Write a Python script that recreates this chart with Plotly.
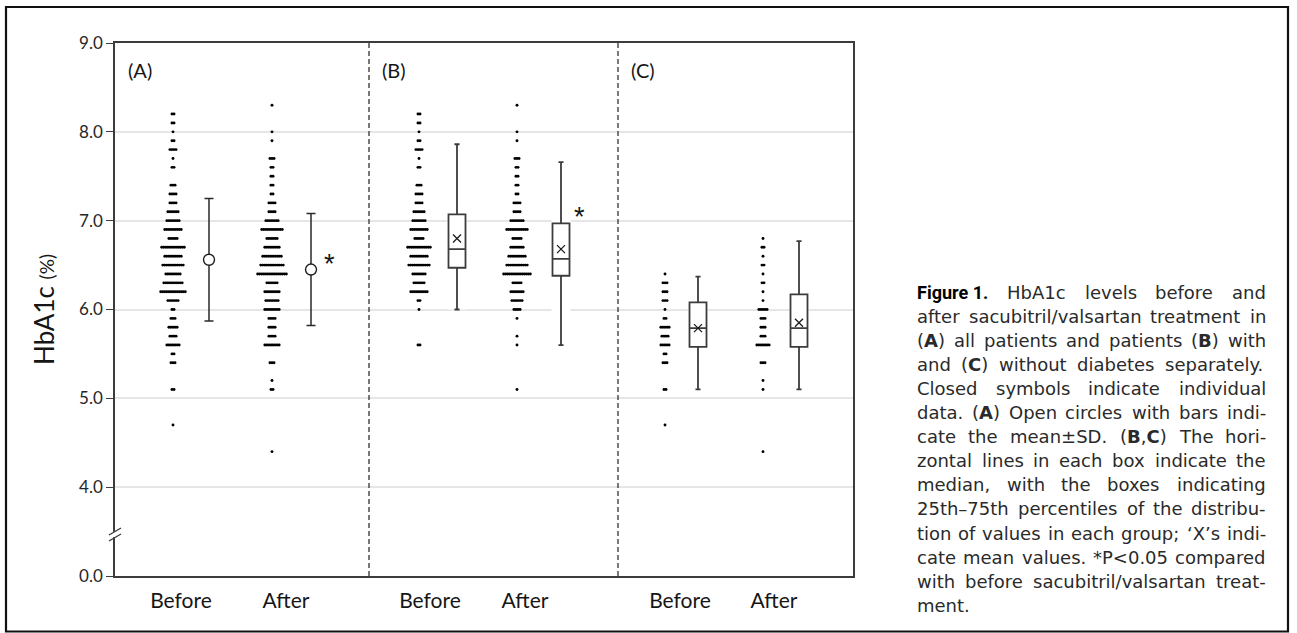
import plotly.graph_objects as go

# ---------------- data ----------------
A_before_vals = [8.2, 8.1, 8.0, 7.9, 7.8, 7.7, 7.6, 7.4, 7.3, 7.2, 7.1, 7.0, 6.9, 6.8, 6.7,
                 6.6, 6.5, 6.4, 6.3, 6.2, 6.1, 6.0, 5.9, 5.8, 5.7, 5.6, 5.5, 5.4, 5.1, 4.7]
A_before_counts = [2, 2, 1, 2, 4, 1, 2, 3, 4, 4, 6, 7, 9, 5, 12,
                   9, 11, 8, 10, 13, 6, 2, 3, 5, 4, 7, 2, 3, 2, 1]
A_after_vals = [8.3, 8.0, 7.9, 7.7, 7.6, 7.5, 7.4, 7.3, 7.2, 7.1, 7.0, 6.9, 6.8, 6.7, 6.6,
                6.5, 6.4, 6.3, 6.2, 6.1, 6.0, 5.9, 5.8, 5.7, 5.6, 5.4, 5.2, 5.1, 4.4]
A_after_counts = [1, 1, 1, 3, 2, 2, 2, 2, 4, 4, 7, 11, 6, 8, 10,
                  12, 15, 6, 8, 7, 8, 4, 4, 4, 8, 3, 1, 2, 1]

B_before_vals = [8.2, 8.1, 8.0, 7.9, 7.8, 7.7, 7.6, 7.4, 7.3, 7.2, 7.1, 7.0, 6.9, 6.8, 6.7,
                 6.6, 6.5, 6.4, 6.3, 6.2, 6.1, 6.0, 5.6]
B_before_counts = [2, 2, 1, 2, 4, 1, 2, 3, 4, 4, 6, 7, 9, 5, 12, 9, 11, 7, 6, 9, 2, 1, 2]
B_after_vals = [8.3, 8.0, 7.9, 7.7, 7.6, 7.5, 7.4, 7.3, 7.2, 7.1, 7.0, 6.9, 6.8, 6.7, 6.6,
                6.5, 6.4, 6.3, 6.2, 6.1, 6.0, 5.9, 5.7, 5.6, 5.1]
B_after_counts = [1, 1, 1, 3, 2, 2, 2, 2, 4, 4, 7, 11, 5, 7, 9, 11, 14, 5, 7, 6, 4, 1, 1, 1, 1]

C_before_vals = [6.4, 6.3, 6.2, 6.1, 6.0, 5.9, 5.8, 5.7, 5.6, 5.5, 5.4, 5.1, 4.7]
C_before_counts = [1, 3, 3, 3, 1, 2, 5, 4, 5, 2, 3, 2, 1]
C_after_vals = [6.8, 6.7, 6.6, 6.5, 6.4, 6.3, 6.2, 6.1, 6.0, 5.9, 5.8, 5.7, 5.6, 5.4, 5.2, 5.1, 4.4]
C_after_counts = [1, 2, 1, 2, 1, 2, 1, 1, 5, 3, 3, 3, 7, 3, 1, 1, 1]

# panel A: mean +/- SD  (before, after)
A_mean = [6.56, 6.45]
A_sd = [0.69, 0.63]

# panels B, C: box summaries (before, after)
B_q1 = [6.47, 6.38]
B_median = [6.68, 6.57]
B_q3 = [7.07, 6.97]
B_low = [6.00, 5.60]
B_high = [7.86, 7.66]
B_mean = [6.80, 6.68]

C_q1 = [5.58, 5.58]
C_median = [5.79, 5.79]
C_q3 = [6.08, 6.17]
C_low = [5.10, 5.10]
C_high = [6.37, 6.77]
C_mean = [5.79, 5.85]

group_labels = ["Before", "After", "Before", "After", "Before", "After"]
panel_labels = ["(A)", "(B)", "(C)"]
y_tick_vals = [3, 4, 5, 6, 7, 8, 9]          # 3 is the broken-axis position shown as 0.0
y_tick_text = ["0.0", "4.0", "5.0", "6.0", "7.0", "8.0", "9.0"]
y_title = "HbA1c"
y_unit = "(%)"

caption_title = "Figure 1."
caption_lines = [
    "HbA1c levels before and",
    "after sacubitril/valsartan treatment in",
    "(<b>A</b>) all patients and patients (<b>B</b>) with",
    "and (<b>C</b>) without diabetes separately.",
    "Closed symbols indicate individual",
    "data. (<b>A</b>) Open circles with bars indi-",
    "cate the mean±SD. (<b>B</b>,<b>C</b>) The hori-",
    "zontal lines in each box indicate the",
    "median, with the boxes indicating",
    "25th–75th percentiles of the distribu-",
    "tion of values in each group; ‘X’s indi-",
    "cate mean values. *P<0.05 compared",
    "with before sacubitril/valsartan treat-",
    "ment.",
]

# ---------------- layout constants (pixels) ----------------
W, H = 1297, 633
PL, PR, PT, PB = 115, 853, 43, 576
Y0, Y1 = 3.0, 9.0

strip_x = [173, 272, 419, 517, 665, 763]
summary_x = [209, 311, 457, 561, 698, 799]
label_x = [181, 286, 430, 525, 680, 774]
sep_x = [369, 618]
panel_label_x = [140, 394, 643]
DOT_STEP = 2.05
BOX_W = 17

AX = "#3c3c3c"
INK = "#161616"
FONT = "Lato"


def px_x(px):
    return (px - PL) / (PR - PL)


def px_y(py):
    return (PB - py) / (PB - PT)


fig = go.Figure()

# ---- strips of individual data
strips = [(A_before_vals, A_before_counts), (A_after_vals, A_after_counts),
          (B_before_vals, B_before_counts), (B_after_vals, B_after_counts),
          (C_before_vals, C_before_counts), (C_after_vals, C_after_counts)]
for (vals, counts), cx in zip(strips, strip_x):
    xs, ys = [], []
    for v, n in zip(vals, counts):
        for i in range(n):
            xs.append(cx + (i - (n - 1) / 2) * DOT_STEP)
            ys.append(v)
    fig.add_trace(go.Scatter(x=xs, y=ys, mode="markers", showlegend=False, hoverinfo="skip",
                             marker=dict(symbol="circle", size=2.9, color="#000",
                                         line=dict(width=0))))

# ---- panel A: mean +/- SD
for k in range(2):
    fig.add_trace(go.Scatter(
        x=[summary_x[k]], y=[A_mean[k]], mode="markers", showlegend=False, hoverinfo="skip",
        error_y=dict(type="data", array=[A_sd[k]], width=4.5, thickness=1.5, color="#2a2a2a"),
        marker=dict(symbol="circle", size=11, color="white", line=dict(color="#1e1e1e", width=1.4))))

# ---- panels B, C: boxes
shapes = []
box_sets = [(B_q1, B_median, B_q3, B_low, B_high, B_mean, summary_x[2:4]),
            (C_q1, C_median, C_q3, C_low, C_high, C_mean, summary_x[4:6])]
for q1, med, q3, lo, hi, mn, xs in box_sets:
    for k in range(2):
        shapes.append(dict(type="rect", xref="x", yref="y", layer="between",
                           x0=xs[k] - 9.5, x1=xs[k] + 9.5, y0=lo[k], y1=hi[k],
                           fillcolor="white", line=dict(width=0)))
        fig.add_trace(go.Box(x=[xs[k]], q1=[q1[k]], median=[med[k]], q3=[q3[k]],
                             lowerfence=[lo[k]], upperfence=[hi[k]], width=BOX_W,
                             fillcolor="white", line=dict(color=AX, width=1.8),
                             whiskerwidth=0.3, boxpoints=False, showlegend=False,
                             hoverinfo="skip"))
        fig.add_trace(go.Scatter(x=[xs[k]], y=[mn[k]], mode="markers", showlegend=False,
                                 hoverinfo="skip",
                                 marker=dict(symbol="x-thin-open", size=8, color="#1a1a1a",
                                             line=dict(color="#1a1a1a", width=1.3))))

# ---- dashed separators
for sx in sep_x:
    shapes.append(dict(type="line", xref="x", yref="y", x0=sx, x1=sx, y0=Y0, y1=Y1,
                       line=dict(color="#333", width=1.3, dash="5px,3px"), layer="above"))

# ---- axis break
shapes.append(dict(type="rect", xref="paper", yref="paper", layer="above",
                   x0=px_x(112.5), x1=px_x(117.5), y0=px_y(537.2), y1=px_y(531.8),
                   fillcolor="white", line=dict(width=0)))
for dy in (0, 6):
    shapes.append(dict(type="line", xref="paper", yref="paper", layer="above",
                       x0=px_x(109), y0=px_y(535 + dy), x1=px_x(121), y1=px_y(528 + dy),
                       line=dict(color=AX, width=1.4)))

# ---- outer frame
shapes.append(dict(type="rect", xref="paper", yref="paper", layer="above",
                   x0=px_x(6), x1=px_x(1288), y0=px_y(631.5), y1=px_y(7),
                   line=dict(color="#111", width=2.2), fillcolor="rgba(0,0,0,0)"))

annotations = []
# panel labels
for lbl, lx in zip(panel_labels, panel_label_x):
    annotations.append(dict(xref="paper", yref="paper", x=px_x(lx), y=px_y(70), text=lbl,
                            showarrow=False, xanchor="center", yanchor="middle",
                            font=dict(family=FONT, size=20, color=INK)))
# asterisks
for sx, sy in [(329, 258), (579, 211)]:
    annotations.append(dict(xref="paper", yref="paper", x=px_x(sx), y=px_y(sy + 6), text="*",
                            showarrow=False, xanchor="center", yanchor="middle",
                            font=dict(family="Liberation Sans", size=27, color=INK)))
# y title
annotations.append(dict(xref="paper", yref="paper", x=px_x(44), y=px_y(310), textangle=-90,
                        text=f"{y_title} <span style='font-size:19px'>{y_unit}</span>",
                        showarrow=False, xanchor="center", yanchor="middle",
                        font=dict(family=FONT, size=26, color=INK)))

# ---- caption (justified word by word, DejaVu Sans metrics)
CW = {' ': .318, 'a': .613, 'b': .635, 'c': .550, 'd': .635, 'e': .615, 'f': .352, 'g': .635,
      'h': .634, 'i': .278, 'j': .278, 'k': .579, 'l': .278, 'm': .974, 'n': .634, 'o': .612,
      'p': .635, 'q': .635, 'r': .411, 's': .521, 't': .392, 'u': .634, 'v': .592, 'w': .818,
      'x': .592, 'y': .592, 'z': .525, 'A': .684, 'B': .686, 'C': .698, 'D': .770, 'H': .752,
      'O': .787, 'P': .603, 'S': .635, 'T': .611, 'X': .685, '(': .390, ')': .390, '.': .318,
      ',': .318, '/': .337, '-': .361, ';': .337, '*': .500, '<': .838, '±': .838, '–': .500,
      '‘': .318, '’': .318}
for d in "0123456789":
    CW[d] = .636
BW = {'A': .774, 'B': .762, 'C': .734, '(': .457, ')': .457, ',': .380}

CAP_FS = 18
CAP_L, CAP_R = 916, 1265
CAP_Y0, CAP_DY = 292, 24.1
CAP_FONT = "DejaVu Sans"
TITLE_W = 72


def word_w(word):
    w, bold, i = 0.0, False, 0
    while i < len(word):
        if word.startswith("<b>", i):
            bold = True
            i += 3
            continue
        if word.startswith("</b>", i):
            bold = False
            i += 4
            continue
        ch = word[i]
        w += (BW.get(ch, CW.get(ch, .6) * 1.12) if bold else CW.get(ch, .6))
        i += 1
    return w * CAP_FS


for li, line in enumerate(caption_lines):
    y = px_y(CAP_Y0 + li * CAP_DY)
    words = line.split(" ")
    widths = [word_w(w) for w in words]
    if li == 0:
        annotations.append(dict(xref="paper", yref="paper", x=px_x(CAP_L), y=y,
                                text=f"<b>{caption_title}</b>", showarrow=False,
                                xanchor="left", yanchor="middle", borderpad=0,
                                font=dict(family="Roboto", size=18, color="#000",
                                          weight=900)))
        words = [None] + words
        widths = [TITLE_W] + widths
    last = li == len(caption_lines) - 1
    if last or len(words) == 1:
        gap = CW[' '] * CAP_FS
    else:
        gap = (CAP_R - CAP_L - sum(widths)) / (len(words) - 1)
    x = CAP_L
    for w, ww in zip(words, widths):
        if w is not None:
            annotations.append(dict(xref="paper", yref="paper", x=px_x(x), y=y, text=w,
                                    showarrow=False, xanchor="left", yanchor="middle",
                                    borderpad=0,
                                    font=dict(family=CAP_FONT, size=CAP_FS, color="#2a2a2a")))
        x += ww + gap

fig.update_layout(
    width=W, height=H,
    margin=dict(l=PL, r=W - PR, t=PT, b=H - PB, pad=0),
    paper_bgcolor="white", plot_bgcolor="white",
    showlegend=False, boxmode="overlay",
    xaxis=dict(range=[PL, PR], showgrid=False, zeroline=False, showline=True, mirror=True,
               linecolor=AX, linewidth=1.6, tickmode="array", tickvals=label_x,
               ticktext=group_labels, ticks="", ticklabelstandoff=5,
               tickfont=dict(family=FONT, size=21, color=INK)),
    yaxis=dict(range=[Y0, Y1], showgrid=True, gridcolor="#e6e6e6", gridwidth=1.5,
               zeroline=False, showline=True, mirror=True, linecolor=AX, linewidth=1.6,
               tickmode="array", tickvals=y_tick_vals, ticktext=y_tick_text,
               ticks="outside", ticklen=7, tickwidth=1.4, tickcolor=AX,
               tickfont=dict(family=FONT, size=17, color="#262626")),
    shapes=shapes, annotations=annotations,
)

fig.write_html("out.html")
